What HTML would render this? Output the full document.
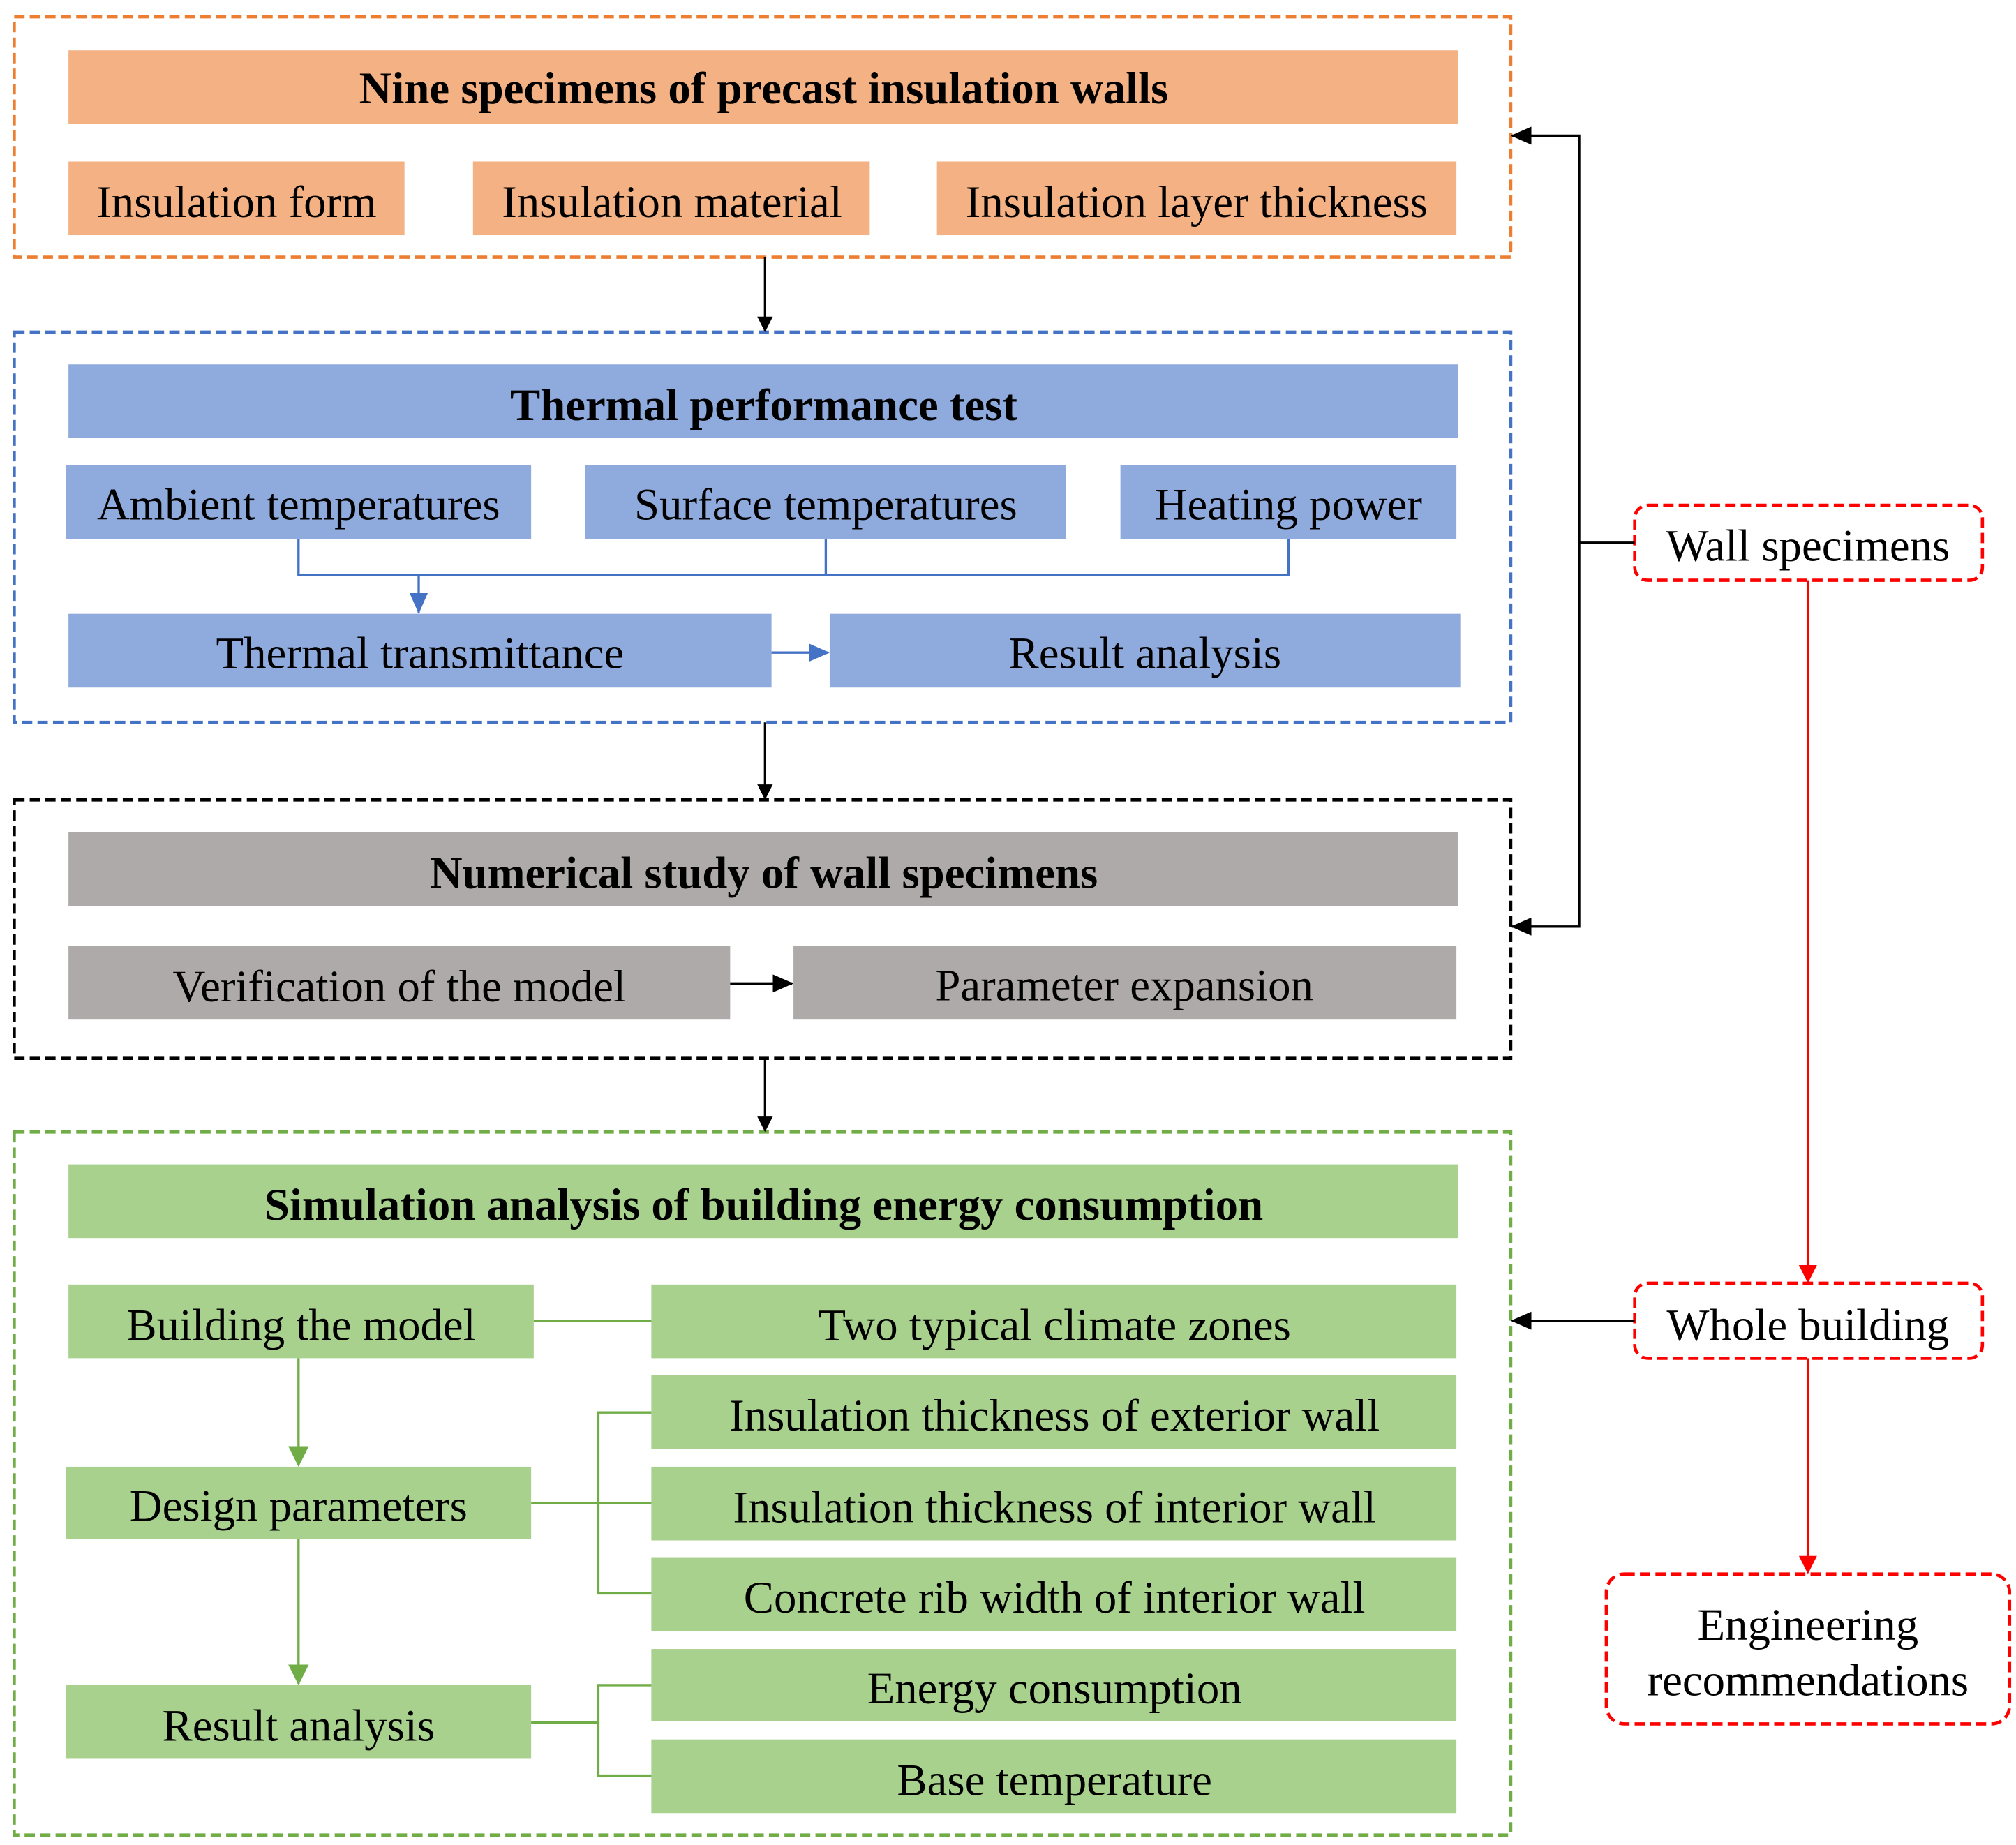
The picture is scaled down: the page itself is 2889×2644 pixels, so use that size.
<!DOCTYPE html>
<html><head><meta charset="utf-8"><style>html,body{margin:0;padding:0;background:#fff}svg{display:block}</style></head>
<body>
<svg xmlns="http://www.w3.org/2000/svg" width="2889" height="2644" viewBox="0 0 1560 1427.7" font-family="Liberation Serif, serif" font-size="35" text-anchor="middle">
<defs>
<marker id="ak" markerWidth="12" markerHeight="12" refX="11" refY="6" orient="auto" markerUnits="userSpaceOnUse"><path d="M0,0 L12,6 L0,12 z" fill="#000"/></marker>
<marker id="ab" markerWidth="16" markerHeight="14" refX="15" refY="7" orient="auto" markerUnits="userSpaceOnUse"><path d="M0,0 L16,7 L0,14 z" fill="#4472C4"/></marker>
<marker id="ag" markerWidth="16" markerHeight="16" refX="15" refY="8" orient="auto" markerUnits="userSpaceOnUse"><path d="M0,0 L16,8 L0,16 z" fill="#70AD47"/></marker>
<marker id="ar" markerWidth="14" markerHeight="14" refX="13" refY="7" orient="auto" markerUnits="userSpaceOnUse"><path d="M0,0 L14,7 L0,14 z" fill="#FF0000"/></marker>
<marker id="ak2" markerWidth="16" markerHeight="14" refX="15" refY="7" orient="auto" markerUnits="userSpaceOnUse"><path d="M0,0 L16,7 L0,14 z" fill="#000"/></marker>
</defs>
<g fill="none" stroke-width="2.5" stroke-dasharray="8,4">
<rect x="11" y="13" width="1158" height="186" stroke="#ED7D31"/>
<rect x="11" y="257" width="1158" height="302" stroke="#4472C4"/>
<rect x="11" y="619" width="1158" height="200" stroke="#000"/>
<rect x="11" y="876" width="1158" height="544" stroke="#70AD47"/>
<rect x="1265" y="391" width="269" height="58" rx="10" stroke="#FF0000"/>
<rect x="1265" y="993" width="269" height="58" rx="10" stroke="#FF0000"/>
<rect x="1243" y="1218" width="312" height="116" rx="14" stroke="#FF0000"/>
</g>
<g fill="#F4B183"><rect x="53" y="39" width="1075" height="57"/><rect x="53" y="125" width="260" height="57"/><rect x="366" y="125" width="307" height="57"/><rect x="725" y="125" width="402" height="57"/></g>
<g fill="#8FAADC"><rect x="53" y="282" width="1075" height="57"/><rect x="51" y="360" width="360" height="57"/><rect x="453" y="360" width="372" height="57"/><rect x="867" y="360" width="260" height="57"/><rect x="53" y="475" width="544" height="57"/><rect x="642" y="475" width="488" height="57"/></g>
<g fill="#AEAAAA"><rect x="53" y="644" width="1075" height="57"/><rect x="53" y="732" width="512" height="57"/><rect x="614" y="732" width="513" height="57"/></g>
<g fill="#A9D18E"><rect x="53" y="901" width="1075" height="57"/><rect x="53" y="994" width="360" height="57"/><rect x="51" y="1135" width="360" height="56"/><rect x="51" y="1304" width="360" height="57"/>
<rect x="504" y="994" width="623" height="57"/><rect x="504" y="1064" width="623" height="57"/><rect x="504" y="1135" width="623" height="57"/><rect x="504" y="1205" width="623" height="57"/><rect x="504" y="1276" width="623" height="56"/><rect x="504" y="1346" width="623" height="57"/></g>
<g stroke="#000" stroke-width="1.8" fill="none">
<line x1="592" y1="199" x2="592" y2="256" marker-end="url(#ak)"/>
<line x1="592" y1="559" x2="592" y2="618" marker-end="url(#ak)"/>
<line x1="592" y1="819" x2="592" y2="875" marker-end="url(#ak)"/>
<line x1="565" y1="761" x2="613" y2="761" marker-end="url(#ak2)"/>
<polyline points="1265,420 1222,420 1222,105 1170,105" marker-end="url(#ak2)"/>
<polyline points="1222,420 1222,717 1170,717" marker-end="url(#ak2)"/>
<line x1="1265" y1="1022" x2="1170" y2="1022" marker-end="url(#ak2)"/>
</g>
<g stroke="#4472C4" stroke-width="1.8" fill="none">
<polyline points="231,417 231,445 997,445 997,417"/><line x1="639" y1="417" x2="639" y2="445"/>
<line x1="324" y1="445" x2="324" y2="474" marker-end="url(#ab)"/>
<line x1="597" y1="505" x2="641" y2="505" marker-end="url(#ab)"/>
</g>
<g stroke="#70AD47" stroke-width="1.8" fill="none">
<line x1="413" y1="1022" x2="504" y2="1022"/>
<line x1="231" y1="1051" x2="231" y2="1134" marker-end="url(#ag)"/>
<line x1="231" y1="1191" x2="231" y2="1303" marker-end="url(#ag)"/>
<line x1="411" y1="1163" x2="504" y2="1163"/><polyline points="504,1093 463,1093 463,1233 504,1233"/>
<line x1="411" y1="1333" x2="463" y2="1333"/><polyline points="504,1304 463,1304 463,1374 504,1374"/>
</g>
<g stroke="#FF0000" stroke-width="2" fill="none">
<line x1="1399" y1="449" x2="1399" y2="992" marker-end="url(#ar)"/>
<line x1="1399" y1="1051" x2="1399" y2="1217" marker-end="url(#ar)"/>
</g>
<g fill="#000">
<g font-weight="bold">
<text x="591" y="80">Nine specimens of precast insulation walls</text>
<text x="591" y="325">Thermal performance test</text>
<text x="591" y="687">Numerical study of wall specimens</text>
<text x="591" y="944">Simulation analysis of building energy consumption</text>
</g>
<text x="183" y="168">Insulation form</text>
<text x="520" y="168">Insulation material</text>
<text x="926" y="168">Insulation layer thickness</text>
<text x="231" y="402">Ambient temperatures</text>
<text x="639" y="402">Surface temperatures</text>
<text x="997" y="402">Heating power</text>
<text x="325" y="517">Thermal transmittance</text>
<text x="886" y="517">Result analysis</text>
<text x="309" y="775">Verification of the model</text>
<text x="870" y="774">Parameter expansion</text>
<text x="233" y="1037">Building the model</text>
<text x="231" y="1177">Design parameters</text>
<text x="231" y="1347">Result analysis</text>
<text x="816" y="1037">Two typical climate zones</text>
<text x="816" y="1107">Insulation thickness of exterior wall</text>
<text x="816" y="1178">Insulation thickness of interior wall</text>
<text x="816" y="1248">Concrete rib width of interior wall</text>
<text x="816" y="1318">Energy consumption</text>
<text x="816" y="1389">Base temperature</text>
<text x="1399" y="434">Wall specimens</text>
<text x="1399" y="1037">Whole building</text>
<text x="1399" y="1269">Engineering</text>
<text x="1399" y="1312">recommendations</text>
</g>
</svg>
</body></html>
